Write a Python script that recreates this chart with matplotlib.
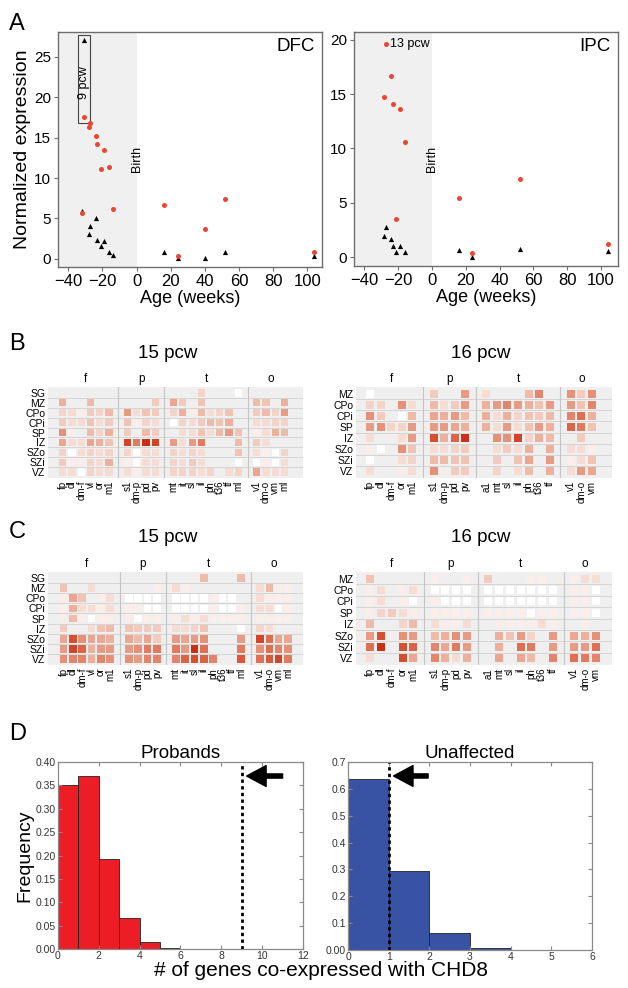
import matplotlib.pyplot as plt
import numpy as np
from matplotlib.colors import LinearSegmentedColormap

plt.rcParams['font.family'] = ['Liberation Sans', 'DejaVu Sans']

n = np.nan

# ---- A: CHD8 (red) vs control (black) expression, DFC and IPC ----
dfc_red_age = [-32, -31, -28, -27, -24, -23, -21, -19, -16, -14, 16, 24, 40, 52, 104]
dfc_red_val = [5.7, 17.5, 16.3, 16.8, 15.2, 14.2, 11.1, 13.5, 11.4, 6.2, 6.65, 0.4, 3.75, 7.4, 0.85]
dfc_tri_age = [-31, -32, -24, -27, -28, -23, -19, -21, -16, -14, 16, 24, 40, 52, 104]
dfc_tri_val = [27.0, 5.9, 5.0, 4.05, 3.1, 2.3, 2.2, 1.65, 0.83, 0.45, 0.8, 0.12, 0.17, 0.87, 0.33]

ipc_red_age = [-27, -24, -28, -23, -19, -16, -21, 16, 24, 52, 104]
ipc_red_val = [19.6, 16.7, 14.75, 14.1, 13.6, 10.6, 3.55, 5.45, 0.43, 7.2, 1.25]
ipc_tri_age = [-27, -28, -24, -23, -19, -21, -16, 16, 24, 52, 104]
ipc_tri_val = [2.75, 2.0, 1.7, 1.05, 1.05, 0.5, 0.5, 0.68, 0.03, 0.8, 0.55]

# ---- B / C: laminar expression maps ----
rows15 = ['SG', 'MZ', 'CPo', 'CPi', 'SP', 'IZ', 'SZo', 'SZi', 'VZ']
groups15 = [('f', ['fp', 'dl', 'dm-f', 'vl', 'or', 'm1']),
            ('p', ['s1', 'dm-p', 'pd', 'pv']),
            ('t', ['mt', 'it', 'sl', 'il', 'ph', 't36', 'tf', 'ml']),
            ('o', ['v1', 'dm-o', 'vm', 'ml'])]
rows16 = ['MZ', 'CPo', 'CPi', 'SP', 'IZ', 'SZo', 'SZi', 'VZ']
groups16 = [('f', ['fp', 'dl', 'dm-f', 'or', 'm1']),
            ('p', ['s1', 'dm-p', 'pd', 'pv']),
            ('t', ['a1', 'mt', 'sl', 'il', 'ph', 't36', 'tf']),
            ('o', ['v1', 'dm-o', 'vm'])]

b15 = [
    [n, n, n, n, n, n, n, n, n, n, n, n, n, .15, n, n, n, 0, n, n, n, n],
    [.35, n, n, .3, n, n, n, n, n, .2, .4, .2, n, .25, n, n, n, n, .3, .25, n, .35],
    [.15, .1, .05, .2, .15, .3, .45, .1, .25, .2, .15, .35, .05, .3, .1, .15, .25, n, .2, .3, .15, .45],
    [.2, .1, .1, .25, .1, .2, .25, .05, .15, .1, 0, .15, .1, .2, .3, .25, .35, n, .1, .1, .15, .15],
    [.5, .05, n, .3, .15, .35, .2, n, .3, .2, n, .1, .1, .25, .1, .3, .45, .25, .05, .1, .35, .3],
    [.4, .1, .1, .4, .35, .25, .85, .6, .95, .85, .45, .1, .45, .6, n, n, n, .3, .2, .1, n, n],
    [.15, 0, .1, .15, .1, .15, .15, 0, .1, .1, .15, .1, .15, .1, n, n, n, .25, .1, .05, 0, .15],
    [.2, .05, .05, .15, .1, .35, .05, 0, .1, .1, .15, .1, .2, .1, n, n, n, 0, 0, .05, 0, .1],
    [.1, .1, 0, .15, .1, .1, .1, .05, .1, .1, .15, .15, .15, .1, .15, n, .1, .15, .4, .1, .1, .1],
]
b16 = [
    [0, n, n, n, n, .2, n, n, .45, .1, n, n, n, .3, .55, n, .5, .2, .5],
    [.15, .15, n, .5, .1, .3, .1, .2, .45, .35, .45, .55, .45, .35, .25, .45, .45, .25, .55],
    [.5, .2, n, 0, .3, .4, .35, .45, .3, .35, .1, .35, .15, .25, .2, .3, .55, .65, .35],
    [.45, .5, .15, .15, .45, .45, .45, .4, .35, .35, .1, .45, .1, .25, .45, .35, .7, .6, .25],
    [.1, n, n, .1, .45, .8, .35, .7, .95, n, .5, .5, .85, .15, .35, .3, n, .2, n],
    [.05, 0, n, .5, .25, .1, .1, .15, .2, n, .1, .2, .1, .35, n, .35, .1, .1, .05],
    [0, n, n, .1, .15, .3, .3, .25, .25, n, .2, n, .25, .4, n, .45, .05, .1, .25],
    [.1, n, n, .05, .1, .5, .05, .2, .2, n, .15, n, .1, .3, n, .35, .1, .45, .4],
]
c15 = [
    [n, n, n, n, n, n, n, n, n, n, n, n, n, .3, n, n, n, .3, n, n, n, n],
    [.25, n, n, .1, n, n, n, n, n, .05, .1, .05, n, n, n, n, n, n, .1, .3, .05, .05],
    [.05, .4, .25, n, .05, .1, 0, 0, 0, 0, 0, 0, 0, 0, .05, 0, 0, n, .1, .05, .05, .05],
    [.05, .35, .1, .1, .05, .1, .05, .05, 0, 0, 0, 0, 0, 0, .05, 0, 0, .05, .1, .1, 0, .05],
    [.05, .3, .05, 0, .05, .05, .05, 0, .05, .05, .05, .1, .05, .1, .05, .05, .05, .05, .05, .05, .05, .05],
    [.2, n, n, .1, .25, .3, .25, .2, .2, .2, .1, .1, .15, .25, n, n, n, 0, .15, .1, n, n],
    [.4, .8, .5, .4, .4, .35, .4, .3, .4, .2, .45, .4, .45, .5, n, n, n, .45, .85, .65, .4, .4],
    [.45, .85, .7, .35, .45, .45, .45, .5, .6, .6, .6, .45, .95, .65, n, n, n, .6, .5, .65, .55, .5],
    [.5, .55, .55, .35, .55, .5, .5, .45, .55, .55, .55, .7, .8, .7, .55, n, n, .75, .65, .75, .85, .6],
]
c16 = [
    [.25, n, n, n, n, .05, n, n, .05, .2, n, n, n, .05, .05, n, .05, .1, .1],
    [.05, .1, n, .05, .1, 0, 0, 0, 0, 0, 0, 0, 0, 0, 0, 0, .05, .05, 0],
    [.05, .1, n, .05, 0, .05, 0, 0, 0, 0, 0, 0, 0, 0, 0, 0, .05, .05, 0],
    [.05, .15, .2, .1, .05, .05, .05, .05, .05, .05, .05, .05, .05, 0, .05, .05, .05, .05, 0],
    [.3, n, n, .15, .3, .1, .05, .05, .1, n, .05, .05, .05, .05, .1, .05, n, .05, n],
    [.45, .8, n, .5, .45, .3, .35, .5, .45, n, .35, .25, .45, .15, n, .45, .4, .35, .5],
    [.65, .95, n, .8, .7, .55, .4, .6, .45, n, .35, n, .65, .6, n, .45, .45, .45, .65],
    [.1, n, n, .8, .4, .55, .35, .1, .35, n, .4, n, .4, .3, n, .55, .65, .6, .55],
]

# ---- D: null distributions ----
proband_freq = [0.35, 0.37, 0.193, 0.066, 0.016, 0.002, 0.0006, 0, 0, 0, 0, 0]
unaffected_freq = [0.638, 0.293, 0.063, 0.006, 0.0008, 0]
proband_obs = 9
unaffected_obs = 1

W, H = 628, 988
fig = plt.figure(figsize=(W / 100, H / 100), dpi=100)


def rect(x0, y0, x1, y1):
    return [x0 / W, 1 - y1 / H, (x1 - x0) / W, (y1 - y0) / H]


def ftext(x, y, s, **kw):
    fig.text(x / W, 1 - y / H, s, **kw)


# panel letters
for lab, y in [('A', 30), ('B', 350), ('C', 538), ('D', 740)]:
    ftext(9, y, lab, fontsize=17, va='baseline')

red = '#ea4632'
grey_spine = '#6e6e6e'


def expr_panel(r, red_age, red_val, tri_age, tri_val, xlim, ylim, yticks, name, birth_y):
    ax = fig.add_axes(r)
    ax.axvspan(xlim[0], 0, color='#f0f0f0', zorder=0, lw=0)
    ax.scatter(tri_age, tri_val, marker='^', s=14, color='black', lw=0, zorder=3)
    ax.scatter(red_age, red_val, marker='o', s=13, color=red, lw=0, zorder=4)
    ax.set_xlim(*xlim)
    ax.set_ylim(*ylim)
    ax.set_xticks(range(-40, 101, 20))
    ax.set_yticks(yticks)
    ax.tick_params(axis='x', labelsize=12, length=3, color=grey_spine, pad=2)
    ax.tick_params(axis='y', labelsize=11, length=3, color=grey_spine, pad=2)
    for s in ax.spines.values():
        s.set_color(grey_spine)
        s.set_linewidth(1.0)
    ax.text(0.973, 0.94, name, transform=ax.transAxes, ha='right', va='center', fontsize=13.5)
    ax.text(0, birth_y, 'Birth', rotation=90, ha='center', va='center', fontsize=9)
    ax.set_xlabel('Age (weeks)', fontsize=13, labelpad=1)
    return ax


axA1 = expr_panel(rect(58, 32, 322, 267), dfc_red_age, dfc_red_val, dfc_tri_age, dfc_tri_val,
                  (-46, 108.5), (-1.0, 28.05), range(0, 26, 5), 'DFC', 12.4)
axA1.set_ylabel('Normalized expression', fontsize=14, labelpad=2)
axA1.add_patch(plt.Rectangle((-34.5, 16.8), 7.4, 10.9, fill=False, ec='#444444', lw=0.8, zorder=2))
axA1.text(-30.8, 21.8, '9 pcw', rotation=90, ha='center', va='center', fontsize=9)

axA2 = expr_panel(rect(354, 32, 618, 266), ipc_red_age, ipc_red_val, ipc_tri_age, ipc_tri_val,
                  (-46, 110), (-0.8, 20.7), range(0, 21, 5), 'IPC', 9.0)
axA2.text(-25.0, ipc_red_val[0], '13 pcw', ha='left', va='center', fontsize=9)

cmap = LinearSegmentedColormap.from_list(
    'lam', [(0, '#ffffff'), (0.1, '#f6dbd2'), (0.3, '#efbba9'), (0.5, '#e69078'),
            (0.75, '#d9593a'), (1, '#c4260e')])


def lam_map(r, rows, groups, vals, xlim, msize, title, title_x, title_y):
    ax = fig.add_axes(r)
    ax.set_facecolor('#efefef')
    xs, labels, seps, centers = [], [], [], []
    pos = 0
    for gi, (g, cols) in enumerate(groups):
        start = pos
        for c in cols:
            xs.append(pos)
            labels.append(c)
            pos += 1
        centers.append(((start + pos - 1) / 2, g))
        if gi < len(groups) - 1:
            seps.append(pos)
            pos += 1
    v = np.array(vals, dtype=float)
    X, Y = np.meshgrid(xs, np.arange(len(rows)))
    m = ~np.isnan(v)
    for k in range(len(rows) - 1):
        ax.axhline(k + 0.5, color='#d0d0d0', lw=0.6, zorder=1)
    for s in seps:
        ax.axvline(s, color='#c4c4c4', lw=0.8, zorder=1)
    ax.scatter(X[m], Y[m], c=v[m], cmap=cmap, vmin=0, vmax=1, marker='s', s=msize,
               lw=0, zorder=2)
    ax.set_xlim(*xlim)
    ax.set_ylim(len(rows) - 1 + 0.6, -0.6)
    ax.set_xticks(xs, labels, rotation=90, fontsize=7)
    ax.set_yticks(range(len(rows)), rows, fontsize=7.5)
    ax.tick_params(length=0, pad=2)
    for s in ax.spines.values():
        s.set_visible(False)
    for cx, g in centers:
        ax.annotate(g, xy=(cx, 1), xycoords=('data', 'axes fraction'), xytext=(0, 6),
                    textcoords='offset points', ha='center', va='center', fontsize=8.5)
    ftext(title_x, title_y, title, ha='center', va='center', fontsize=13.5)
    return ax


lam_map(rect(48, 387, 303, 478), rows15, groups15, b15, (-1.6, 26.0), 27, '15 pcw', 168, 354)
lam_map(rect(356, 387, 612, 478), rows16, groups16, b16, (-1.35, 22.9), 33, '16 pcw', 481, 354)
lam_map(rect(48, 572, 303, 665), rows15, groups15, c15, (-1.65, 25.6), 30, '15 pcw', 168, 538)
lam_map(rect(356, 572, 612, 665), rows16, groups16, c16, (-1.33, 22.5), 33, '16 pcw', 481, 538)


def hist_panel(r, freq, color, obs, xlim, ylim, yticks, ylabels, xticks, arrow_y, arrow_from, title):
    ax = fig.add_axes(r)
    ax.bar(np.arange(len(freq)), freq, width=1, align='edge', color=color,
           edgecolor='#222222', lw=0.6)
    ax.axvline(obs, color='black', ls=(0, (1.2, 1.2)), lw=2.0)
    tip = obs + 0.02 * (xlim[1] - xlim[0])
    ax.annotate('', xy=(tip, arrow_y), xytext=(arrow_from, arrow_y),
                arrowprops=dict(facecolor='black', edgecolor='black', width=3,
                                headwidth=15, headlength=14, shrink=0))
    ax.set_xlim(*xlim)
    ax.set_ylim(*ylim)
    ax.set_yticks(yticks, ylabels)
    ax.set_xticks(xticks)
    ax.tick_params(direction='in', top=True, right=True, length=3, labelsize=7.5,
                   labelcolor='#333333', color='#888888', pad=1.5)
    for s in ax.spines.values():
        s.set_color('#8a8a8a')
        s.set_linewidth(0.9)
    ax.set_title(title, fontsize=13.5, pad=3)
    return ax


p_ticks = [i * 0.05 for i in range(9)]
axD1 = hist_panel(rect(58, 762, 303, 949), proband_freq, '#ec1d24', proband_obs, (0, 12), (0, 0.40),
                  p_ticks, ['%.2f' % t for t in p_ticks], range(0, 13, 2), 0.37, 11.0, 'Probands')
axD1.set_ylabel('Frequency', fontsize=14, labelpad=2)
u_ticks = [i * 0.1 for i in range(8)]
hist_panel(rect(348, 762, 592, 950), unaffected_freq, '#3953a4', unaffected_obs, (0, 6), (0, 0.70),
           u_ticks, ['0.00'] + ['%.1f' % t for t in u_ticks[1:]], range(0, 7), 0.648, 1.97, 'Unaffected')

ftext(321, 970, '# of genes co-expressed with CHD8', ha='center', va='center', fontsize=15)

fig.savefig('out.png', dpi=100)
